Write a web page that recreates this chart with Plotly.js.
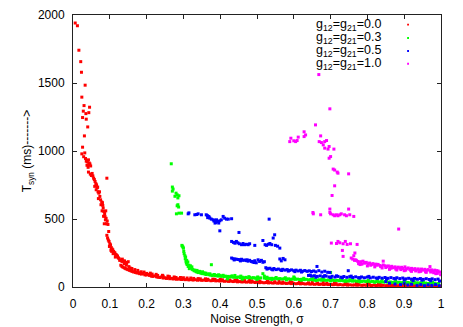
<!DOCTYPE html>
<html>
<head>
<meta charset="utf-8">
<script src="https://cdn.plot.ly/plotly-3.0.1.min.js"></script>
<style>
  html, body { margin: 0; padding: 0; background: #fff; }
  #plot { width: 463px; height: 327px; }
</style>
</head>
<body>
<div id="plot"></div>
<script>
// g12=g21=0.0
var redX = [0.006,0.012,0.016,0.021,0.023,0.033,0.024,0.030,0.045,0.028,0.035,0.043,0.026,0.036,0.040,0.031,0.026,0.024,0.032,
  0.029,0.034,0.037,0.039,0.042,0.044,0.046,0.038,0.041,0.043,0.036,0.048,
  0.042,0.047,0.050,0.054,0.052,0.056,0.092,0.058,0.060,0.062,0.064,0.059,0.066,0.063,0.068,0.070,0.073,0.069,0.075,0.078,0.076,0.080,
  0.082,0.079,0.084,0.086,0.083,0.087,0.090,0.088,0.085,0.091,0.093,0.095,0.097,0.092,0.094,0.096,0.098,0.100,0.099,0.102,0.104,0.106,
  0.103,0.108,0.110,0.112,0.109,0.114,0.116,0.118,0.120,0.115,0.123,0.125,0.128,0.131,0.134,0.137,0.140,0.143,0.146,0.150,0.130,0.133,
  0.136,0.140,0.143,0.147,0.150,0.154,0.158,0.161,0.165,0.170,0.174,0.178,0.181,0.186,0.190,0.195,0.199,0.204,0.208,0.213,0.217,0.222,
  0.227,0.231,0.236,0.240,0.245,0.250,0.254,0.259,0.263,0.268,0.272,0.277,0.281,0.286,0.290,0.295,0.300,0.305,0.310,0.315,0.320,0.326,
  0.332,0.338,0.344,0.350,0.356,0.362,0.368,0.375,0.381,0.388,0.394,0.399,0.405,0.411,0.417,0.423,0.429,0.435,0.441,0.447,0.453,0.459,
  0.465,0.471,0.477,0.483,0.489,0.495,0.501,0.507,0.513,0.519,0.525,0.531,0.537,0.543,0.549,0.556,0.562,0.568,0.574,0.580,0.587,0.593,
  0.599,0.606,0.612,0.618,0.625,0.631,0.637,0.644,0.650,0.656,0.662,0.669,0.675,0.681,0.688,0.694,0.700,0.707,0.713,0.720,0.726,0.733,
  0.739,0.746,0.752,0.759,0.765,0.772,0.778,0.785,0.791,0.798,0.804,0.811,0.817,0.824,0.830,0.837,0.843,0.850,0.856,0.863,0.869,0.876,
  0.882,0.889,0.895,0.902,0.908,0.915,0.921,0.928,0.934,0.941,0.947,0.954,0.960,0.967,0.973,0.980,0.986,0.993,0.998,
  0.155,0.168,0.185,0.200,0.215,0.230,0.245,0.262,0.280,0.300,0.320,0.340,0.360,0.380,0.400,0.420,0.440,0.460,0.480,0.500,0.530,0.560,
  0.590,0.620,0.650,0.680,0.710,0.740,0.770,0.800,0.830,0.860,0.890,0.920,0.950,0.980,
  0.105,0.111,0.117,0.121,0.127,0.133,0.139,0.145,0.152,0.160,0.176,0.193,0.210,0.226,0.243,0.258,0.275,0.292,0.310,0.328,0.346,0.366,
  0.386,0.406,0.426,0.446,0.466,0.486,0.508,0.528,0.548,0.570,0.595,0.615,0.640,0.665,0.690,0.715,0.745,0.775,0.805,0.835,0.865,0.895,
  0.925,0.955,0.985,0.072,0.067,0.081,0.089];
var redY = [1941,1921,1741,1657,1579,1484,1396,1334,1322,1293,1275,1282,1246,1234,1177,1111,1028,979,986,
  958,945,930,920,935,912,905,895,880,900,925,890,
  845,830,820,817,835,800,800,790,776,760,751,740,730,715,700,690,666,650,641,625,605,620,
  580,560,555,540,520,518,505,494,465,465,485,460,408,380,360,345,335,318,298,310,290,280,
  270,274,262,255,245,250,237,232,225,220,215,210,200,195,205,190,192,180,176,186,160,151,
  145,140,135,130,127,122,118,115,110,107,103,105,98,95,100,90,88,92,85,80,78,82,
  75,72,70,74,66,68,63,66,61,64,59,62,57,60,58,55,57,54,56,52,55,51,
  54,50,52,49,51,48,50,46,48,45,47,44,46,42,44,41,43,40,42,38,40,37,
  39,36,38,35,37,33,36,32,34,31,33,30,32,29,31,28,30,27,29,26,28,25,
  27,24,26,23,25,22,24,21,23,20,22,19,21,18,20,18,19,17,19,16,18,15,
  17,14,16,14,15,13,15,12,14,12,13,11,13,11,12,10,12,10,11,9,11,9,
  10,9,10,8,10,8,9,8,9,7,9,7,8,7,8,6,8,6,7,
  140,128,112,100,95,85,80,76,70,68,66,62,60,58,55,54,52,50,48,46,44,42,
  40,38,36,34,32,30,28,26,25,24,22,22,20,20,
  262,248,238,228,196,188,172,160,150,136,122,110,102,93,86,80,74,70,66,63,60,57,
  56,53,51,49,47,45,43,41,39,37,35,33,31,29,27,25,23,21,20,18,17,15,
  14,13,12,700,735,600,560];

// g12=g21=0.3
var greenX = [0.267,0.270,0.272,0.270,0.277,0.283,0.288,0.285,0.280,0.283,0.287,0.285,0.288,0.295,0.281,
  0.296,0.299,0.297,0.300,0.302,0.304,0.306,0.305,0.307,0.308,0.310,0.313,0.315,0.318,0.316,0.321,0.324,0.326,0.329,0.332,
  0.335,0.338,0.341,0.344,0.347,0.350,0.353,0.356,0.359,0.362,0.366,0.370,0.376,0.374,0.378,0.382,0.386,0.390,0.394,0.398,
  0.402,0.406,0.410,0.414,0.418,0.422,0.426,0.430,0.435,0.440,0.445,0.450,0.455,0.460,0.465,0.470,0.475,0.480,0.485,0.490,
  0.495,0.500,0.505,0.510,0.516,0.520,0.525,0.530,0.535,0.540,0.545,0.550,0.556,0.562,0.568,0.574,0.580,0.586,0.592,0.598,
  0.604,0.610,0.616,0.622,0.628,0.634,0.640,0.646,0.652,0.658,0.664,0.670,0.676,0.682,0.688,0.694,0.700,0.700,0.706,0.712,
  0.718,0.724,0.730,0.736,0.742,0.748,0.754,0.760,0.766,0.772,0.778,0.784,0.790,0.796,0.802,0.808,0.814,0.820,0.826,0.832,
  0.838,0.844,0.850,0.856,0.862,0.868,0.874,0.880,0.886,0.892,0.898,0.904,0.910,0.916,0.922,0.928,0.934,0.940,0.946,0.952,
  0.958,0.964,0.970,0.976,0.982,0.988,0.994,
  0.420,0.460,0.500,0.540,0.580,0.620,0.660,0.700,0.740,0.780,0.820,0.860,0.900,0.940,0.980,
  0.440,0.520,0.600,0.680,0.760,0.840,0.920,0.970,
  0.301,0.309,0.312,0.319,0.323,0.331,0.337,0.343,0.352,0.361,0.372,0.384,0.396,0.408,0.432,0.456,0.478,0.502,0.527,0.552,
  0.577,0.602,0.627,0.652,0.677,0.702,0.727,0.752,0.777,0.802,0.827,0.852,0.877,0.902,0.927,0.952,0.977];
var greenY = [906,735,720,705,667,678,671,655,690,597,588,605,543,543,538,
  306,293,300,285,245,230,220,208,190,176,165,151,160,145,135,140,130,127,120,118,
  112,110,106,115,103,100,98,104,95,92,96,90,164,88,85,88,83,86,80,84,
  78,82,76,80,75,78,73,77,72,75,70,74,69,72,68,71,67,70,66,69,
  65,68,64,67,98,66,63,65,62,64,61,63,60,62,59,61,58,60,57,59,
  56,58,55,57,54,56,53,55,52,54,51,53,50,52,49,51,107,48,50,47,
  49,46,48,45,47,44,46,43,45,42,44,41,43,40,42,39,41,38,40,37,
  39,36,38,35,37,34,36,33,35,32,34,31,33,30,32,29,31,28,30,27,
  29,26,28,25,27,24,26,
  60,58,56,55,52,50,48,45,42,38,35,32,30,28,25,
  85,80,74,70,62,58,52,55,
  262,196,184,156,148,124,122,108,112,102,97,92,90,86,82,80,76,74,72,70,
  68,66,64,62,60,58,56,54,52,50,48,46,44,42,40,38,36];

// g12=g21=0.5
var blueX = [0.313,0.315,0.331,0.336,0.340,0.349,0.362,0.365,0.368,0.366,0.372,0.376,0.381,0.385,0.390,0.388,0.393,0.396,0.399,
  0.403,0.408,0.412,0.417,0.422,0.431,0.399,0.451,0.386,0.383,0.370,
  0.431,0.436,0.440,0.444,0.448,0.452,0.458,0.462,0.466,0.471,0.476,0.480,0.494,0.516,0.522,0.526,0.531,0.535,0.540,0.544,
  0.548,0.550,0.556,0.562,0.533,
  0.431,0.435,0.440,0.444,0.449,0.453,0.458,0.462,0.467,0.471,0.476,0.480,0.485,0.489,0.492,0.494,0.498,0.503,0.507,0.512,
  0.516,0.520,0.562,0.566,0.571,0.576,
  0.524,0.530,0.535,0.540,0.546,0.552,0.558,0.564,0.570,0.576,0.582,0.588,0.594,0.600,0.606,0.612,0.618,0.624,0.630,0.636,
  0.642,0.648,0.654,0.660,0.663,0.668,0.676,0.684,0.692,
  0.640,0.648,0.656,0.664,0.672,0.680,0.688,0.696,0.698,0.704,0.712,0.720,0.728,0.736,0.744,0.748,0.752,0.760,0.768,0.776,
  0.784,0.792,0.800,0.808,0.816,0.824,0.832,0.840,0.848,0.856,0.864,0.872,0.880,0.888,
  0.896,0.904,0.912,0.920,0.928,0.936,0.944,0.952,0.960,0.968,0.976,0.984,0.992,
  0.850,0.860,0.875,0.890,0.900,0.910,0.920,0.935,0.945,0.955,0.965,0.975,0.985,0.995,
  0.438,0.455,0.473,0.487,0.527,0.543,0.567,0.585,0.603,0.621,0.645,0.660,0.684,0.700,0.716,0.732,0.756,0.780,0.804,0.828,
  0.852,0.876,0.900,0.924,0.948,0.972,0.996];
var blueY = [538,545,531,533,538,531,531,525,519,510,506,499,494,490,494,475,482,470,487,
  494,519,506,499,499,502,413,401,470,485,515,
  335,328,322,335,325,318,311,320,311,314,311,318,306,342,311,306,314,320,311,360,
  384,306,300,286,499,
  213,208,206,204,202,200,204,196,198,194,190,196,188,185,180,193,178,200,188,196,
  182,186,206,192,210,200,
  142,135,138,130,136,128,132,126,130,124,128,122,126,120,124,118,123,116,121,115,
  119,114,118,112,151,120,110,116,108,
  85,80,83,78,82,76,80,74,107,79,73,78,72,77,71,120,76,70,75,69,
  74,68,73,67,72,66,71,65,70,64,69,63,68,62,
  66,60,64,58,63,57,62,56,61,55,60,54,58,
  40,28,22,18,25,15,20,12,18,10,16,12,18,10,
  199,192,200,186,132,126,121,117,113,110,88,72,84,70,82,68,80,66,78,64,
  62,60,52,48,50,46,44];

// g12=g21=1.0
var magentaX = [0.668,0.698,0.659,0.628,0.632,0.628,0.612,0.609,0.605,0.592,0.589,0.600,0.673,0.669,0.675,0.684,0.689,0.680,
  0.696,0.684,0.693,0.709,0.700,0.696,0.707,0.711,0.720,0.718,0.749,0.711,0.704,0.698,0.749,0.652,0.653,0.673,0.698,0.700,
  0.707,0.711,0.716,0.720,0.725,0.729,0.738,0.743,0.752,0.763,
  0.702,0.716,0.720,0.725,0.734,0.740,0.745,0.754,0.772,0.732,0.734,0.766,0.763,
  0.756,0.760,0.765,0.770,0.774,0.778,0.782,0.788,0.792,0.797,0.802,0.806,0.811,0.815,0.820,0.825,0.829,0.834,0.838,0.843,
  0.843,0.848,0.852,0.857,0.861,0.866,0.870,0.875,0.879,0.885,0.884,0.888,0.893,0.897,0.902,0.906,0.911,0.915,0.920,0.924,
  0.929,0.933,0.938,0.942,0.947,0.951,0.956,0.960,0.965,0.970,0.970,0.974,0.979,0.983,0.988,0.992,0.996,0.990,0.980,0.960,
  0.940,0.920,0.900,0.880,0.860,0.840,0.820,0.800,0.780,
  0.767,0.776,0.785,0.794,0.809,0.823,0.836,0.850,0.864,0.877,0.891,0.904,0.918,0.931,0.945,0.958,0.972,0.986,0.999];
var magentaY = [1562,1310,1192,1141,1118,1106,1102,1077,1069,1094,1069,1075,1111,1069,1062,1069,1077,1045,
  1033,1021,1014,1014,959,947,867,860,837,845,832,744,673,573,573,548,538,531,548,538,
  531,524,531,524,531,538,531,524,531,519,
  323,320,335,325,318,335,313,318,313,269,225,250,230,
  213,205,196,196,188,181,186,190,175,181,170,176,166,172,164,160,166,158,152,162,
  190,156,150,155,146,152,142,148,140,426,146,138,145,136,148,134,140,130,137,128,
  135,126,133,125,132,124,130,122,128,120,150,126,118,124,120,118,110,100,105,108,
  112,115,120,125,130,140,148,155,165,
  200,172,168,180,160,168,150,143,138,132,128,124,120,118,115,112,110,98,90];

var seriesNames = ['g<sub>12</sub>=g<sub>21</sub>=0.0', 'g<sub>12</sub>=g<sub>21</sub>=0.3',
  'g<sub>12</sub>=g<sub>21</sub>=0.5', 'g<sub>12</sub>=g<sub>21</sub>=1.0'];
var seriesColors = ['#ff0000', '#00ff00', '#0000ff', '#ff00ff'];
var seriesX = [redX, greenX, blueX, magentaX];
var seriesY = [redY, greenY, blueY, magentaY];

var font = 'Liberation Sans, Arial, sans-serif';

var traces = seriesX.map(function (xs, i) {
  return {
    x: xs,
    y: seriesY[i],
    name: seriesNames[i],
    type: 'scatter',
    mode: 'markers',
    marker: { symbol: 'square', size: 3, color: seriesColors[i], line: { width: 0 } },
    showlegend: false,
    hoverinfo: 'skip'
  };
});

// gnuplot-style key: text right-aligned, sample dot to its right
var keyRows = [0.964, 0.915, 0.867, 0.820];
var annotations = [];
var shapes = [];
keyRows.forEach(function (yy, i) {
  annotations.push({
    xref: 'paper', yref: 'paper', x: 0.843, y: yy,
    xanchor: 'right', yanchor: 'middle', showarrow: false,
    text: seriesNames[i], font: { family: font, size: 12.5, color: '#000' }
  });
  shapes.push({
    type: 'rect', xref: 'paper', yref: 'paper',
    x0: 0.908, x1: 0.913, y0: yy - 0.003, y1: yy + 0.004,
    fillcolor: seriesColors[i], line: { width: 0 }
  });
});

var axisCommon = {
  showline: true, linecolor: '#222', linewidth: 1, mirror: 'ticks',
  ticks: 'inside', ticklen: 4, tickwidth: 1, tickcolor: '#222',
  showgrid: false, zeroline: false,
  tickfont: { family: font, size: 12, color: '#000' }
};

var layout = {
  width: 463, height: 327,
  margin: { l: 73, r: 22, t: 15, b: 40 },
  paper_bgcolor: '#fff', plot_bgcolor: '#fff',
  font: { family: font, size: 12, color: '#000' },
  xaxis: Object.assign({}, axisCommon, {
    range: [0, 1], dtick: 0.1, tick0: 0, ticklabelstandoff: 6,
    title: { text: 'Noise Strength, σ', font: { family: font, size: 12 }, standoff: 4 }
  }),
  yaxis: Object.assign({}, axisCommon, {
    range: [0, 2000], dtick: 500, tick0: 0, ticklabelstandoff: 5,
    title: { text: 'T<sub>syn</sub> (ms)-------&gt;', font: { family: font, size: 12 } }
  }),
  annotations: annotations,
  shapes: shapes
};

Plotly.newPlot('plot', traces, layout, { staticPlot: true, displayModeBar: false });
</script>
</body>
</html>
